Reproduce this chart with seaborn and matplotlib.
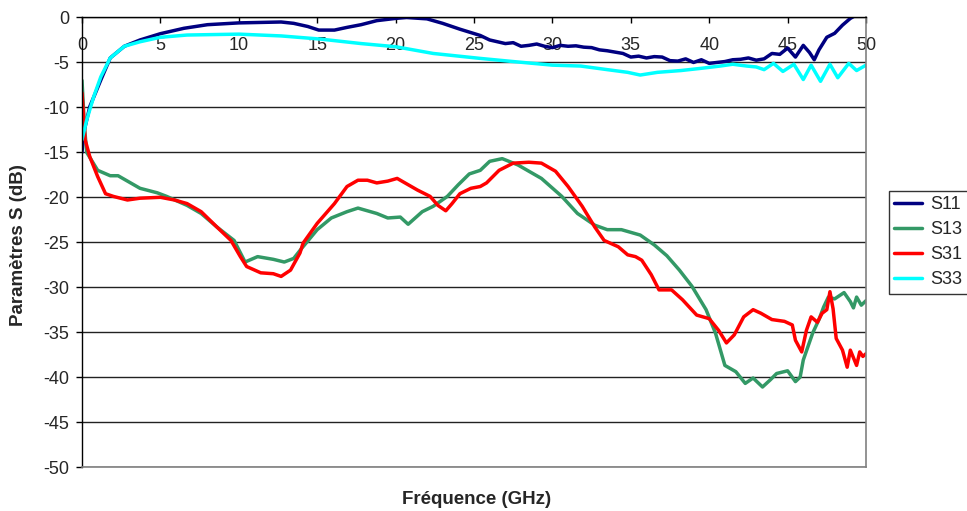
"""S-parameter chart (S11, S13, S31, S33) versus frequency."""

import matplotlib

matplotlib.use("Agg")

import matplotlib.pyplot as plt
import pandas as pd
import seaborn as sns

SERIES_NAMES = ["S11", "S13", "S31", "S33"]
SERIES_COLORS = ["#000080", "#339966", "#FF0000", "#00FFFF"]

# Values (GHz, dB)
S11_FREQ = [0, 0.1, 0.5, 1.2, 1.8, 2.7, 3.7, 5.0, 6.5, 8.0, 10.0, 12.7, 13.5, 14.4,
            15.1, 16.1, 16.9, 17.8, 18.8, 20.0, 20.7, 22.0, 23.0, 24.1, 25.4, 26.0,
            26.5, 27.0, 27.5, 28.0, 28.5, 29.0, 29.5, 30.0, 30.5, 31.0, 31.5, 32.0,
            32.5, 33.0, 33.5, 34.0, 34.5, 35.0, 35.5, 36.0, 36.5, 37.0, 37.5, 38.0,
            38.5, 39.0, 39.5, 40.0, 40.5, 41.0, 41.5, 42.0, 42.5, 43.0, 43.5, 44.0,
            44.5, 45.0, 45.5, 46.0, 46.4, 46.7, 47.0, 47.5, 48.0, 48.5, 49.0, 49.5, 50.0]
S11_DB = [-15, -12.9, -9.9, -6.95, -4.5, -3.2, -2.5, -1.8, -1.2, -0.8, -0.6, -0.5, -0.65,
          -1.0, -1.4, -1.4, -1.1, -0.8, -0.35, -0.1, 0.0, -0.15, -0.65, -1.3, -2.0, -2.5,
          -2.7, -2.9, -2.8, -3.2, -3.1, -2.95, -3.2, -3.35, -3.1, -3.2, -3.15, -3.3,
          -3.35, -3.6, -3.7, -3.85, -4.0, -4.4, -4.3, -4.5, -4.35, -4.4, -4.8, -4.85,
          -4.6, -5.0, -4.7, -5.1, -5.0, -4.9, -4.7, -4.65, -4.5, -4.75, -4.6, -4.0,
          -4.1, -3.4, -4.4, -3.1, -3.9, -4.7, -3.6, -2.2, -1.76, -0.85, -0.1, 0.4, 0.8]

S13_FREQ = [0, 0.15, 0.3, 1.0, 1.8, 2.3, 3.7, 4.8, 5.4, 6.7, 7.6, 8.6, 9.7, 10.4, 11.2,
            12.2, 12.9, 13.5, 14.0, 15.0, 15.9, 16.9, 17.6, 18.8, 19.5, 20.3, 20.8,
            21.7, 22.4, 23.3, 24.0, 24.7, 25.4, 26.0, 26.8, 27.8, 29.3, 30.6, 31.6,
            32.7, 33.5, 34.4, 35.6, 36.5, 37.3, 38.1, 38.9, 39.8, 40.4, 41.0, 41.7,
            42.3, 42.8, 43.4, 43.9, 44.3, 45.0, 45.5, 45.8, 46.0, 46.6, 47.0, 47.3,
            47.6, 48.0, 48.6, 49.0, 49.2, 49.4, 49.7, 50.0]
S13_DB = [-7.0, -12.0, -15.0, -17.0, -17.6, -17.6, -19.0, -19.5, -19.9, -20.9, -21.8,
          -23.3, -24.8, -27.2, -26.6, -26.9, -27.2, -26.8, -25.7, -23.6, -22.3, -21.6,
          -21.2, -21.8, -22.3, -22.2, -23.0, -21.6, -21.0, -19.9, -18.6, -17.4, -17.0,
          -16.0, -15.7, -16.4, -17.9, -19.9, -21.8, -23.1, -23.6, -23.6, -24.2, -25.3,
          -26.5, -28.1, -29.9, -32.5, -35.1, -38.7, -39.4, -40.7, -40.1, -41.1, -40.3,
          -39.6, -39.3, -40.5, -40.0, -38.1, -35.1, -33.6, -32.2, -31.1, -31.3, -30.6,
          -31.6, -32.3, -31.1, -32.0, -31.5]

S31_FREQ = [0, 0.2, 0.5, 1.0, 1.5, 2.0, 2.9, 3.7, 5.0, 5.9, 6.7, 7.6, 8.6, 9.5, 10.1,
            10.5, 11.4, 12.2, 12.7, 13.3, 13.9, 14.1, 15.0, 16.1, 16.9, 17.6, 18.2,
            18.8, 19.5, 20.1, 20.6, 21.4, 22.2, 22.7, 23.2, 23.6, 24.1, 24.8, 25.4,
            25.8, 26.6, 27.5, 28.5, 29.3, 30.2, 31.0, 31.9, 32.7, 33.3, 34.2, 34.8,
            35.3, 35.7, 36.3, 36.8, 37.6, 38.3, 39.2, 40.0, 40.6, 41.1, 41.6, 42.2,
            42.8, 43.3, 44.0, 44.8, 45.3, 45.5, 45.9, 46.2, 46.5, 46.9, 47.2, 47.5,
            47.7, 47.9, 48.1, 48.5, 48.8, 49.0, 49.4, 49.6, 49.8, 50.0]
S31_DB = [-8.4, -13.6, -15.5, -17.7, -19.6, -19.9, -20.3, -20.1, -20.0, -20.3, -20.7,
          -21.6, -23.3, -24.8, -26.6, -27.7, -28.4, -28.5, -28.8, -28.1, -26.2, -25.1,
          -22.9, -20.7, -18.8, -18.1, -18.1, -18.4, -18.2, -17.9, -18.4, -19.2, -19.9,
          -20.9, -21.5, -20.7, -19.6, -19.0, -18.8, -18.4, -17.0, -16.2, -16.1, -16.2,
          -17.1, -18.8, -21.0, -23.3, -24.8, -25.5, -26.4, -26.6, -27.0, -28.6, -30.3,
          -30.3, -31.4, -33.1, -33.5, -34.8, -36.2, -35.3, -33.3, -32.5, -32.9, -33.6,
          -33.8, -34.2, -35.9, -37.2, -34.8, -33.3, -33.9, -32.9, -32.5, -30.5, -32.4,
          -35.7, -37.0, -38.9, -37.0, -38.7, -37.2, -37.7, -37.4]

S33_FREQ = [0, 0.3, 0.75, 1.2, 1.8, 2.7, 3.7, 5.0, 6.7, 10.0, 12.7, 15.2, 17.8, 20.0,
            22.4, 25.4, 27.5, 30.0, 31.8, 33.5, 34.8, 35.6, 36.7, 38.2, 39.5, 40.7,
            41.5, 42.4, 43.0, 43.5, 44.1, 44.7, 45.4, 46.0, 46.5, 47.1, 47.7, 48.2,
            48.9, 49.4, 50.0]
S33_DB = [-13.6, -11.4, -8.8, -6.6, -4.5, -3.2, -2.7, -2.2, -1.95, -1.85, -2.05, -2.4,
          -2.9, -3.25, -4.0, -4.55, -4.9, -5.3, -5.4, -5.8, -6.1, -6.4, -6.1, -5.9,
          -5.65, -5.4, -5.2, -5.4, -5.5, -5.8, -5.1, -6.0, -5.2, -6.9, -5.3, -7.1,
          -5.2, -6.7, -5.1, -5.9, -5.3]

X_TICKS = [0, 5, 10, 15, 20, 25, 30, 35, 40, 45, 50]
Y_TICKS = [0, -5, -10, -15, -20, -25, -30, -35, -40, -45, -50]


def build_frame() -> pd.DataFrame:
    """Stack the four series into one long table for seaborn."""
    parts = []
    for name, freq, db in [
        ("S11", S11_FREQ, S11_DB),
        ("S13", S13_FREQ, S13_DB),
        ("S31", S31_FREQ, S31_DB),
        ("S33", S33_FREQ, S33_DB),
    ]:
        parts.append(pd.DataFrame({"freq": freq, "db": db, "serie": name}))
    return pd.concat(parts, ignore_index=True)


def main() -> None:
    sns.set_theme(style="white")
    plt.rcParams["font.family"] = ["Liberation Sans", "DejaVu Sans"]

    df = build_frame()

    fig = plt.figure(figsize=(9.67, 5.11), dpi=100)
    ax = fig.add_axes([82 / 967, 1 - 467 / 511, 784 / 967, 449.5 / 511])

    sns.lineplot(
        data=df,
        x="freq",
        y="db",
        hue="serie",
        hue_order=SERIES_NAMES,
        palette=dict(zip(SERIES_NAMES, SERIES_COLORS)),
        estimator=None,
        sort=False,
        linewidth=2.5,
        ax=ax,
    )

    ax.set_xlim(0, 50)
    ax.set_ylim(-50, 0)
    ax.set_yticks(Y_TICKS)
    ax.set_xticks(X_TICKS)
    ax.set_yticklabels([str(v) for v in Y_TICKS])
    ax.set_xticklabels([str(v) for v in X_TICKS])

    ax.grid(axis="y", color="#222222", linewidth=1.0)
    ax.grid(axis="x", visible=False)
    ax.set_axisbelow(True)

    for side in ["top", "left"]:
        ax.spines[side].set_color("black")
        ax.spines[side].set_linewidth(1.0)
    for side in ["right", "bottom"]:
        ax.spines[side].set_color("#808080")
        ax.spines[side].set_linewidth(1.2)

    ax.tick_params(axis="y", left=True, direction="out", length=4.3, width=1,
                   color="black", labelsize=13, pad=5)
    ax.tick_params(axis="x", bottom=False, top=True, labelbottom=False, labeltop=True,
                   direction="in", length=4.3, width=1, color="black",
                   labelsize=13, pad=-26)

    ax.set_xlabel("Fréquence (GHz)", fontsize=13.5, fontweight="bold")
    ax.xaxis.set_label_position("bottom")
    ax.xaxis.set_label_coords(0.503, -0.053)
    ax.set_ylabel("Paramètres S (dB)", fontsize=13.5, fontweight="bold")
    ax.yaxis.set_label_coords(-0.07, 0.494)

    handles, labels = ax.get_legend_handles_labels()
    ax.get_legend().remove()
    leg = fig.legend(
        handles,
        labels,
        loc="upper left",
        bbox_to_anchor=(889 / 967, 1 - 190.7 / 511),
        fontsize=13,
        frameon=True,
        fancybox=False,
        handlelength=1.55,
        handletextpad=0.45,
        labelspacing=0.45,
        borderpad=0.3,
        borderaxespad=0,
    )
    leg.get_frame().set_edgecolor("black")
    leg.get_frame().set_linewidth(1.0)

    fig.savefig("out.png", dpi=100)
    plt.close(fig)


if __name__ == "__main__":
    main()
